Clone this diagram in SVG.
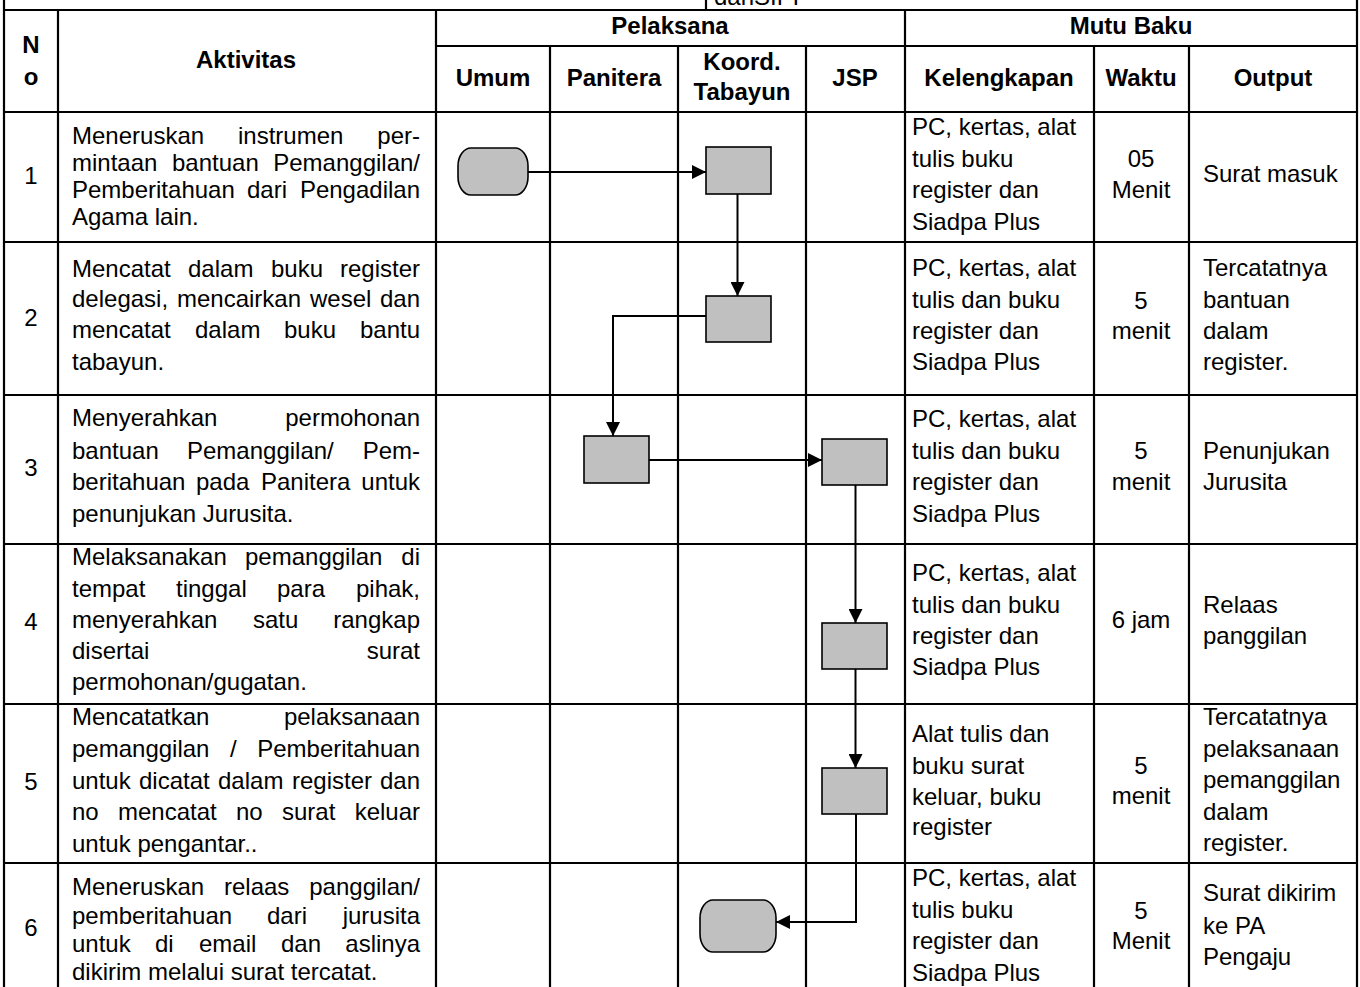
<svg xmlns="http://www.w3.org/2000/svg" width="1360" height="987" viewBox="0 0 1360 987">
<style>
.t{font-family:"Liberation Sans",Arial,sans-serif;font-size:24px;fill:#000}
.b{font-weight:bold}
.c{text-anchor:middle}
.e{text-anchor:end}
.g{stroke:#000;stroke-width:2.2;fill:none}
.n{fill:#c0c0c0;stroke:#000;stroke-width:1.6}
.k{stroke:#000;stroke-width:2;fill:none}
</style>
<defs>
<marker id="ah" markerUnits="userSpaceOnUse" markerWidth="15" markerHeight="14" refX="14" refY="7" orient="auto">
<path d="M0,0 L14,7 L0,14 Z" fill="#000"/>
</marker>
</defs>
<rect width="1360" height="987" fill="#fff"/>
<g id="grid" class="g">
<path d="M4,0 V987 M1357,0 V987 M706,0 V10 M4,10 H1357 M436,46 H1357 M436,112 H1357 M4,112 H436 M4,242 H1357 M4,395 H1357 M4,544 H1357 M4,704 H1357 M4,863 H1357"/>
<path d="M58,10 V987 M436,10 V987 M905,10 V987 M550,46 V987 M678,46 V987 M806,46 V987 M1094,46 V987 M1189,46 V987"/>
</g>
<g id="header">
<text class="t" x="714" y="5">danSIPP</text>
<text class="t b c" x="31" y="53">N</text>
<text class="t b c" x="31" y="85">o</text>
<text class="t b c" x="246" y="68">Aktivitas</text>
<text class="t b c" x="670" y="34">Pelaksana</text>
<text class="t b c" x="1131" y="34">Mutu Baku</text>
<text class="t b c" x="493" y="86">Umum</text>
<text class="t b c" x="614" y="86">Panitera</text>
<text class="t b c" x="742" y="70">Koord.</text>
<text class="t b c" x="742" y="100">Tabayun</text>
<text class="t b c" x="855" y="86">JSP</text>
<text class="t b c" x="999" y="86">Kelengkapan</text>
<text class="t b c" x="1141" y="86">Waktu</text>
<text class="t b c" x="1273" y="86">Output</text>
</g>
<g id="row1">
<text class="t c" x="31" y="184">1</text>
<text class="t" x="72" y="144">Meneruskan</text><text class="t" x="238" y="144">instrumen</text><text class="t e" x="420" y="144">per-</text>
<text class="t" x="72" y="171">mintaan</text><text class="t" x="172" y="171">bantuan</text><text class="t e" x="420" y="171">Pemanggilan/</text>
<text class="t" x="72" y="198">Pemberitahuan</text><text class="t" x="247" y="198">dari</text><text class="t e" x="420" y="198">Pengadilan</text>
<text class="t" x="72" y="225">Agama lain.</text>
<text class="t" x="912" y="135">PC, kertas, alat</text>
<text class="t" x="912" y="167">tulis buku</text>
<text class="t" x="912" y="198">register dan</text>
<text class="t" x="912" y="230">Siadpa Plus</text>
<text class="t c" x="1141" y="167">05</text>
<text class="t c" x="1141" y="198">Menit</text>
<text class="t" x="1203" y="182">Surat masuk</text>
</g>
<g id="row2">
<text class="t c" x="31" y="326">2</text>
<text class="t" x="72" y="277">Mencatat</text><text class="t" x="188" y="277">dalam</text><text class="t" x="271" y="277">buku</text><text class="t e" x="420" y="277">register</text>
<text class="t" x="72" y="307">delegasi,</text><text class="t" x="177" y="307">mencairkan</text><text class="t" x="310" y="307">wesel</text><text class="t e" x="420" y="307">dan</text>
<text class="t" x="72" y="338">mencatat</text><text class="t" x="195" y="338">dalam</text><text class="t" x="284" y="338">buku</text><text class="t e" x="420" y="338">bantu</text>
<text class="t" x="72" y="370">tabayun.</text>
<text class="t" x="912" y="276">PC, kertas, alat</text>
<text class="t" x="912" y="308">tulis dan buku</text>
<text class="t" x="912" y="339">register dan</text>
<text class="t" x="912" y="370">Siadpa Plus</text>
<text class="t c" x="1141" y="309">5</text>
<text class="t c" x="1141" y="339">menit</text>
<text class="t" x="1203" y="276">Tercatatnya</text>
<text class="t" x="1203" y="308">bantuan</text>
<text class="t" x="1203" y="339">dalam</text>
<text class="t" x="1203" y="370">register.</text>
</g>
<g id="row3">
<text class="t c" x="31" y="476">3</text>
<text class="t" x="72" y="426">Menyerahkan</text><text class="t e" x="420" y="426">permohonan</text>
<text class="t" x="72" y="459">bantuan</text><text class="t" x="187" y="459">Pemanggilan/</text><text class="t e" x="420" y="459">Pem-</text>
<text class="t" x="72" y="490">beritahuan</text><text class="t" x="196" y="490">pada</text><text class="t" x="261" y="490">Panitera</text><text class="t e" x="420" y="490">untuk</text>
<text class="t" x="72" y="522">penunjukan Jurusita.</text>
<text class="t" x="912" y="427">PC, kertas, alat</text>
<text class="t" x="912" y="459">tulis dan buku</text>
<text class="t" x="912" y="490">register dan</text>
<text class="t" x="912" y="522">Siadpa Plus</text>
<text class="t c" x="1141" y="459">5</text>
<text class="t c" x="1141" y="490">menit</text>
<text class="t" x="1203" y="459">Penunjukan</text>
<text class="t" x="1203" y="490">Jurusita</text>
</g>
<g id="row4">
<text class="t c" x="31" y="630">4</text>
<text class="t" x="72" y="565">Melaksanakan</text><text class="t" x="245" y="565">pemanggilan</text><text class="t e" x="420" y="565">di</text>
<text class="t" x="72" y="597">tempat</text><text class="t" x="176" y="597">tinggal</text><text class="t" x="277" y="597">para</text><text class="t e" x="420" y="597">pihak,</text>
<text class="t" x="72" y="628">menyerahkan</text><text class="t" x="253" y="628">satu</text><text class="t e" x="420" y="628">rangkap</text>
<text class="t" x="72" y="659">disertai</text><text class="t e" x="420" y="659">surat</text>
<text class="t" x="72" y="690">permohonan/gugatan.</text>
<text class="t" x="912" y="581">PC, kertas, alat</text>
<text class="t" x="912" y="613">tulis dan buku</text>
<text class="t" x="912" y="644">register dan</text>
<text class="t" x="912" y="675">Siadpa Plus</text>
<text class="t c" x="1141" y="628">6 jam</text>
<text class="t" x="1203" y="613">Relaas</text>
<text class="t" x="1203" y="644">panggilan</text>
</g>
<g id="row5">
<text class="t c" x="31" y="790">5</text>
<text class="t" x="72" y="725">Mencatatkan</text><text class="t e" x="420" y="725">pelaksanaan</text>
<text class="t" x="72" y="757">pemanggilan</text><text class="t" x="230" y="757">/</text><text class="t e" x="420" y="757">Pemberitahuan</text>
<text class="t" x="72" y="789">untuk</text><text class="t" x="139" y="789">dicatat</text><text class="t" x="218" y="789">dalam</text><text class="t" x="292" y="789">register</text><text class="t e" x="420" y="789">dan</text>
<text class="t" x="72" y="820">no</text><text class="t" x="118" y="820">mencatat</text><text class="t" x="236" y="820">no</text><text class="t" x="282" y="820">surat</text><text class="t e" x="420" y="820">keluar</text>
<text class="t" x="72" y="852">untuk pengantar..</text>
<text class="t" x="912" y="742">Alat tulis dan</text>
<text class="t" x="912" y="774">buku surat</text>
<text class="t" x="912" y="805">keluar, buku</text>
<text class="t" x="912" y="835">register</text>
<text class="t c" x="1141" y="774">5</text>
<text class="t c" x="1141" y="804">menit</text>
<text class="t" x="1203" y="725">Tercatatnya</text>
<text class="t" x="1203" y="757">pelaksanaan</text>
<text class="t" x="1203" y="788">pemanggilan</text>
<text class="t" x="1203" y="820">dalam</text>
<text class="t" x="1203" y="851">register.</text>
</g>
<g id="row6">
<text class="t c" x="31" y="936">6</text>
<text class="t" x="72" y="895">Meneruskan</text><text class="t" x="224" y="895">relaas</text><text class="t e" x="420" y="895">panggilan/</text>
<text class="t" x="72" y="924">pemberitahuan</text><text class="t" x="267" y="924">dari</text><text class="t e" x="420" y="924">jurusita</text>
<text class="t" x="72" y="952">untuk</text><text class="t" x="155" y="952">di</text><text class="t" x="199" y="952">email</text><text class="t" x="281" y="952">dan</text><text class="t e" x="420" y="952">aslinya</text>
<text class="t" x="72" y="980">dikirim melalui surat tercatat.</text>
<text class="t" x="912" y="886">PC, kertas, alat</text>
<text class="t" x="912" y="918">tulis buku</text>
<text class="t" x="912" y="949">register dan</text>
<text class="t" x="912" y="981">Siadpa Plus</text>
<text class="t c" x="1141" y="919">5</text>
<text class="t c" x="1141" y="949">Menit</text>
<text class="t" x="1203" y="901">Surat dikirim</text>
<text class="t" x="1203" y="934">ke PA</text>
<text class="t" x="1203" y="965">Pengaju</text>
</g>
<g id="connectors" class="k">
<path d="M528,172 H706" marker-end="url(#ah)"/>
<path d="M737.5,194 V296" marker-end="url(#ah)"/>
<path d="M706,316 H613 V436" marker-end="url(#ah)"/>
<path d="M649,460 H822" marker-end="url(#ah)"/>
<path d="M855.5,485 V623" marker-end="url(#ah)"/>
<path d="M855.5,669 V768" marker-end="url(#ah)"/>
<path d="M856,814 V922 H776" marker-end="url(#ah)"/>
</g>
<g id="start"><rect class="n" x="458" y="148" width="70" height="47" rx="13" ry="18"/></g>
<g id="step1"><rect class="n" x="706" y="147" width="65" height="47"/></g>
<g id="step2"><rect class="n" x="706" y="296" width="65" height="46"/></g>
<g id="step3a"><rect class="n" x="584" y="436" width="65" height="47"/></g>
<g id="step3b"><rect class="n" x="822" y="439" width="65" height="46"/></g>
<g id="step4"><rect class="n" x="822" y="623" width="65" height="46"/></g>
<g id="step5"><rect class="n" x="822" y="768" width="65" height="46"/></g>
<g id="end"><rect class="n" x="700" y="900" width="76" height="52" rx="13" ry="18"/></g>
</svg>
